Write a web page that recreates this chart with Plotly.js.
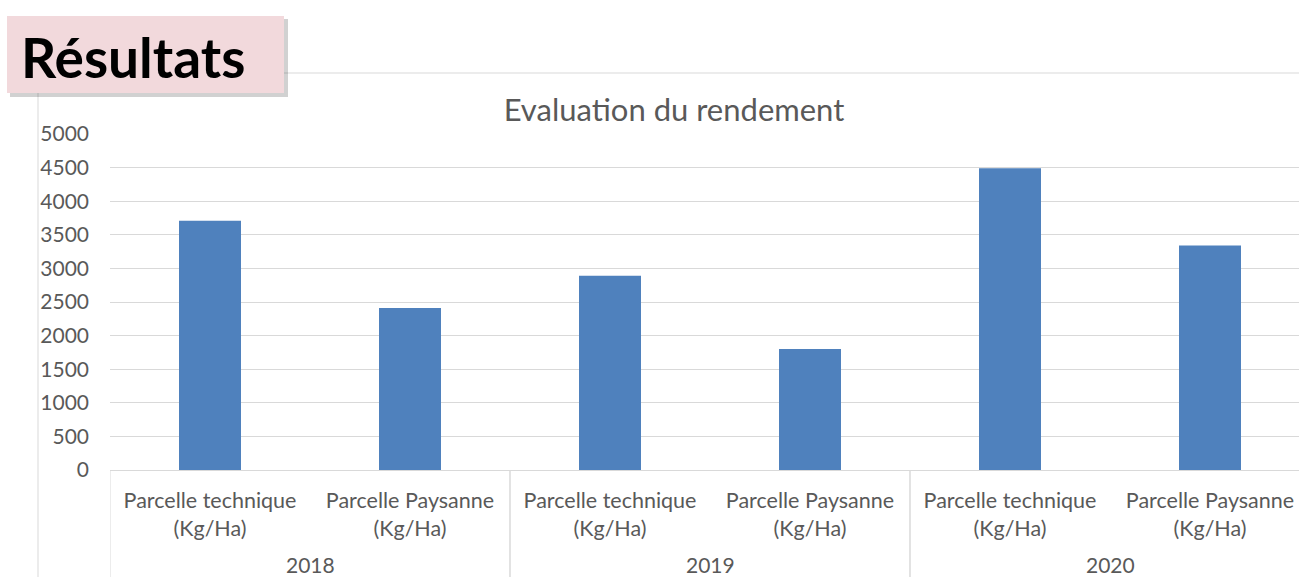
<!DOCTYPE html>
<html>
<head>
<meta charset="utf-8">
<script src="https://cdn.plot.ly/plotly-3.0.1.min.js"></script>
<style>
html,body{margin:0;padding:0;background:#fff;overflow:hidden;}
#chart{width:1299px;height:577px;}
</style>
</head>
<body>
<div id="chart"></div>
<script>
const years = ["2018", "2018", "2019", "2019", "2020", "2020"];
const parcelles = [
  "Parcelle technique<br>(Kg/Ha)", "Parcelle Paysanne<br>(Kg/Ha)",
  "Parcelle technique<br>(Kg/Ha)", "Parcelle Paysanne<br>(Kg/Ha)",
  "Parcelle technique<br>(Kg/Ha)", "Parcelle Paysanne<br>(Kg/Ha)"
];
const rendement = [3710, 2410, 2890, 1800, 4490, 3340];
const yTicks = [0, 500, 1000, 1500, 2000, 2500, 3000, 3500, 4000, 4500, 5000];

const W = 1299, H = 577;
const L = 110, R = 0, T = 134, B = 107;
const pw = W - L - R, ph = H - T - B;
const px = x => (x - L) / pw;
const py = y => (H - B - y) / ph;

// unique category keys built from the two label levels
const keys = years.map((y, i) => y + "|" + i);

// year groups (first and last index of each year)
const groups = [];
years.forEach((y, i) => {
  const g = groups.find(o => o.year === y);
  if (g) g.last = i; else groups.push({year: y, first: i, last: i});
});

const trace = {
  type: "bar",
  x: keys,
  y: rendement,
  width: 0.31,
  marker: {color: "#4f81bd"},
  hoverinfo: "y"
};

const gridGray = "#d9d9d9";
const textGray = "#595959";

const shapes = [
  {type: "line", xref: "paper", yref: "paper", x0: px(38), x1: px(38), y0: py(93), y1: py(H), line: {color: gridGray, width: 1}},
  {type: "line", xref: "paper", yref: "paper", x0: px(284), x1: px(W), y0: py(73), y1: py(73), line: {color: gridGray, width: 1}},
  {type: "rect", xref: "paper", yref: "paper", x0: px(10), x1: px(288), y0: py(19), y1: py(97), fillcolor: "rgba(0,0,0,0.18)", line: {width: 0}, layer: "above"},
  {type: "rect", xref: "paper", yref: "paper", x0: px(7), x1: px(284), y0: py(16), y1: py(93), fillcolor: "#f2d9dc", line: {width: 0}, layer: "above"}
];
groups.forEach(g => {
  shapes.push({type: "line", xref: "x", yref: "paper", x0: g.first - 0.5, x1: g.first - 0.5, y0: 0, y1: py(H + 5), line: {color: gridGray, width: 1}});
  shapes.push({type: "line", xref: "x", yref: "paper", x0: g.last + 0.5, x1: g.last + 0.5, y0: 0, y1: py(H + 5), line: {color: gridGray, width: 1}});
});

const annotations = [
  {
    text: "<b>Résultats</b>",
    xref: "paper", yref: "paper",
    x: px(133), y: py(57), xanchor: "center", yanchor: "middle",
    showarrow: false,
    font: {family: "Lato, sans-serif", size: 55, color: "#000000"}
  }
];
groups.forEach(g => {
  annotations.push({
    text: g.year, xref: "x", yref: "paper",
    x: (g.first + g.last) / 2, y: py(564), xanchor: "center", yanchor: "middle",
    showarrow: false,
    font: {family: "Lato, sans-serif", size: 21, color: textGray}
  });
});

const layout = {
  width: W, height: H,
  margin: {l: L, r: R, t: T, b: B, pad: 0},
  paper_bgcolor: "#ffffff",
  plot_bgcolor: "#ffffff",
  showlegend: false,
  font: {family: "Lato, 'Open Sans', sans-serif", color: textGray},
  title: {
    text: "Evaluation du rendement",
    font: {family: "Lato, sans-serif", size: 31, color: textGray},
    x: px(674), xanchor: "center", xref: "paper",
    y: 1 - 110 / H, yanchor: "middle", yref: "container"
  },
  xaxis: {
    type: "category",
    range: [-0.5, 5.445],
    tickvals: keys,
    ticktext: parcelles,
    showgrid: false,
    showline: true, linecolor: gridGray, linewidth: 1,
    ticks: "", ticklabelstandoff: 11,
    tickfont: {family: "Lato, sans-serif", size: 21.5, color: textGray},
    fixedrange: true
  },
  yaxis: {
    range: [0, 5000],
    tickvals: yTicks,
    ticktext: yTicks.map(String),
    showgrid: true, gridcolor: gridGray, gridwidth: 1,
    zeroline: false, showline: false,
    ticks: "", ticklabelstandoff: 20,
    tickfont: {family: "Lato, sans-serif", size: 21, color: textGray},
    fixedrange: true
  },
  shapes: shapes,
  annotations: annotations
};

Plotly.newPlot("chart", [trace], layout, {displayModeBar: false, staticPlot: true});
</script>
</body>
</html>
